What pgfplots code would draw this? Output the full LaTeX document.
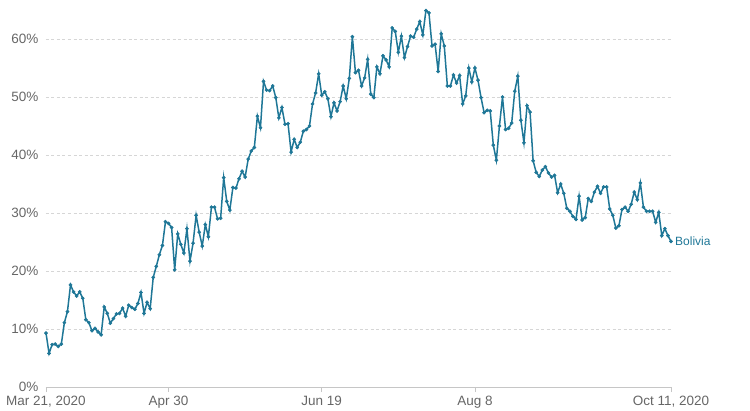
\documentclass[border=0pt]{standalone}
\usepackage{pgfplots}
\pgfplotsset{compat=1.18}
\usepackage{fontspec}
\setmainfont{Liberation Sans}

\definecolor{linecol}{HTML}{1F7797}
\definecolor{tickgray}{HTML}{666666}
\definecolor{gridgray}{HTML}{D6D6D6}

% share of tests positive, Bolivia, day 0 = Mar 21, 2020
\pgfplotstableread{
d v
0 9.3
1 5.8
2 7.3
3 7.4
4 7.0
5 7.4
6 11.1
7 13.0
8 17.6
9 16.4
10 15.7
11 16.4
12 15.3
13 11.6
14 11.1
15 9.7
16 10.1
17 9.5
18 9.0
19 13.8
20 12.7
21 11.0
22 11.8
23 12.6
24 12.7
25 13.6
26 12.2
27 14.1
28 13.7
29 13.4
30 14.4
31 16.3
32 12.7
33 14.6
34 13.5
35 18.9
36 20.8
37 22.8
38 24.4
39 28.5
40 28.2
41 27.5
42 20.2
43 26.4
44 24.6
45 23.1
46 27.3
47 21.7
48 24.8
49 29.6
50 26.7
51 24.3
52 28.0
53 25.9
54 31.0
55 31.0
56 29.0
57 29.1
58 36.1
59 32.0
60 30.5
61 34.4
62 34.3
63 35.9
64 37.2
65 36.2
66 39.3
67 40.7
68 41.3
69 46.7
70 44.7
71 52.7
72 51.2
73 51.1
74 51.9
75 49.9
76 46.4
77 48.2
78 45.3
79 45.4
80 40.5
81 42.7
82 41.3
83 42.2
84 44.1
85 44.4
86 45.0
87 48.8
88 50.7
89 54.0
90 50.3
91 50.9
92 49.7
93 46.6
94 49.0
95 47.6
96 49.2
97 51.9
98 49.7
99 53.2
100 60.4
101 54.2
102 54.6
103 51.9
104 53.3
105 56.5
106 50.5
107 49.9
108 55.2
109 54.0
110 57.1
111 56.4
112 55.2
113 61.9
114 61.3
115 57.7
116 60.5
117 56.8
118 58.7
119 60.5
120 60.3
121 61.7
122 63.0
123 60.7
124 64.9
125 64.5
126 58.8
127 59.1
128 54.4
129 60.9
130 58.8
131 51.9
132 51.9
133 53.8
134 52.4
135 53.7
136 48.8
137 50.2
138 55.0
139 52.6
140 55.0
141 52.9
142 49.9
143 47.3
144 47.7
145 47.6
146 41.7
147 39.1
148 45.0
149 50.0
150 44.4
151 44.6
152 45.5
153 51.0
154 53.6
155 46.0
156 42.1
157 48.5
158 47.4
159 39.0
160 37.0
161 36.3
162 37.4
163 38.0
164 36.9
165 36.2
166 36.5
167 33.5
168 35.0
169 33.4
170 30.8
171 30.3
172 29.4
173 28.9
174 32.9
175 28.8
176 29.2
177 32.5
178 32.0
179 33.6
180 34.6
181 33.4
182 34.5
183 34.5
184 30.7
185 29.6
186 27.4
187 27.8
188 30.6
189 31.0
190 30.3
191 31.5
192 33.6
193 32.3
194 35.2
195 31.0
196 30.3
197 30.3
198 30.3
199 28.4
200 30.1
201 26.1
202 27.3
203 26.1
204 25.1
}\bolivia

\begin{document}
\begin{tikzpicture}
\path[use as bounding box] (0,0) rectangle (750pt,410pt);
\begin{axis}[
    at={(46pt,23pt)}, anchor=south west,
    scale only axis,
    width=625pt, height=382.8pt,
    xmin=0, xmax=204,
    ymin=0, ymax=66,
    clip=false,
    axis x line*=bottom,
    axis y line*=left,
    y axis line style={draw=none},
    x axis line style={draw=gray!45, line width=0.8pt},
    xtick={0,40,90,140,204},
    xticklabels={{Mar 21, 2020},{Apr 30},{Jun 19},{Aug 8},{Oct 11, 2020}},
    ytick={0,10,20,30,40,50,60},
    yticklabels={0\%,10\%,20\%,30\%,40\%,50\%,60\%},
    tick align=outside,
    major tick length=5pt,
    x tick style={draw=gray!45, line width=0.8pt},
    y tick style={draw=none},
    ticklabel style={font=\fontsize{13.5}{15}\selectfont, text=tickgray},
    xticklabel style={yshift=-1pt},
    yticklabel style={xshift=1pt},
    ymajorgrids=true,
    grid style={draw=gridgray, line width=0.7pt, dash pattern=on 3pt off 2.5pt},
]
\addplot[color=linecol, line width=1.5pt, mark=*, mark size=1.6pt,
    mark options={fill=linecol, draw=linecol, line width=0.5pt}] table[x=d, y=v] {\bolivia};
\node[anchor=west, text=linecol, font=\fontsize{12}{14}\selectfont, inner sep=0pt, xshift=4pt]
    at (axis cs:204,25.1) {Bolivia};
\end{axis}
\end{tikzpicture}
\end{document}
